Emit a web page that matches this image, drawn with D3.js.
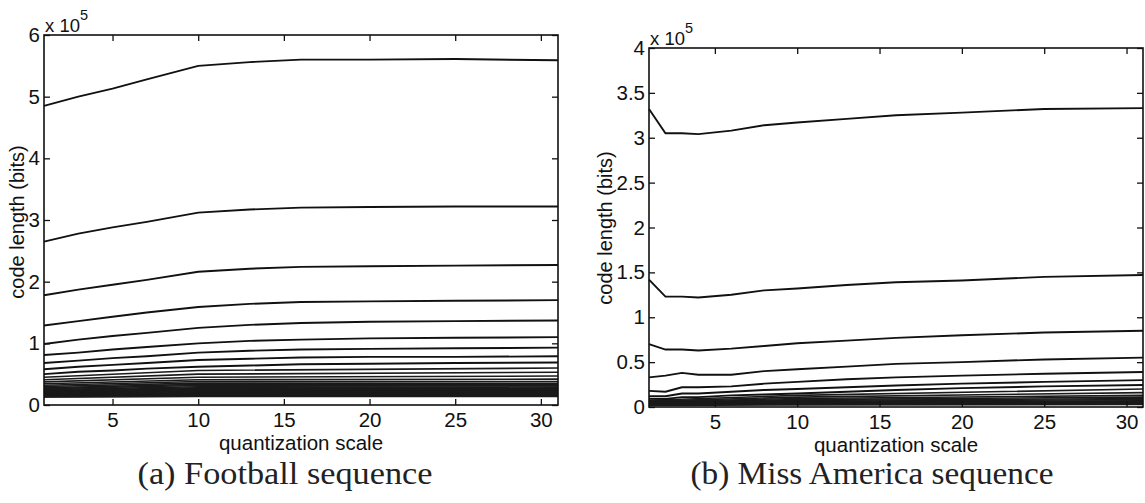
<!DOCTYPE html>
<html>
<head>
<meta charset="utf-8">
<script src="https://cdn.jsdelivr.net/npm/d3@7"></script>
<style>
  body { margin: 0; background: #fff; }
  svg { display: block; }
</style>
</head>
<body>
<div id="viz"></div>
<script>
// ---- data (code length in units of 1e5 bits) ----
// (a) Football sequence: upper curves read at these quantization scales
const footballQ = [1, 3, 5, 7, 10, 13, 16, 20, 25, 31];
const footballTop = [
  [4.85, 5.00, 5.13, 5.28, 5.50, 5.56, 5.60, 5.60, 5.61, 5.59],
  [2.65, 2.78, 2.88, 2.97, 3.12, 3.17, 3.20, 3.21, 3.22, 3.22],
  [1.78, 1.87, 1.95, 2.03, 2.16, 2.21, 2.24, 2.25, 2.26, 2.27],
  [1.29, 1.36, 1.43, 1.50, 1.59, 1.64, 1.67, 1.68, 1.69, 1.70],
  [0.99, 1.06, 1.12, 1.17, 1.25, 1.30, 1.33, 1.35, 1.36, 1.37],
  [0.81, 0.85, 0.90, 0.94, 1.00, 1.04, 1.06, 1.08, 1.09, 1.10],
  [0.68, 0.72, 0.76, 0.79, 0.85, 0.88, 0.90, 0.91, 0.92, 0.93],
  [0.58, 0.62, 0.65, 0.68, 0.73, 0.75, 0.77, 0.78, 0.78, 0.79],
  [0.50, 0.54, 0.56, 0.59, 0.62, 0.64, 0.66, 0.67, 0.68, 0.69]
];
// the dense lower band, read at q = 1, 10, 31
const footballLowQ = [1, 10, 31];
const footballLowStart = [0.45, 0.41, 0.375, 0.345, 0.32, 0.30, 0.28, 0.265, 0.25, 0.235, 0.225, 0.215, 0.205, 0.195, 0.185, 0.178, 0.171, 0.165, 0.159, 0.153, 0.148, 0.143, 0.138, 0.134, 0.13];
const footballLowMid   = [0.56, 0.50, 0.45, 0.41, 0.38, 0.355, 0.335, 0.315, 0.295, 0.28, 0.265, 0.25, 0.238, 0.226, 0.215, 0.205, 0.196, 0.187, 0.179, 0.171, 0.164, 0.157, 0.150, 0.144, 0.138];
const footballLowEnd   = [0.60, 0.53, 0.47, 0.42, 0.38, 0.35, 0.33, 0.31, 0.29, 0.275, 0.262, 0.25, 0.238, 0.227, 0.217, 0.207, 0.198, 0.19, 0.182, 0.174, 0.166, 0.158, 0.151, 0.144, 0.138];
const footballYTicks = [0, 1, 2, 3, 4, 5, 6];

// (b) Miss America sequence
const missQ = [1, 2, 3, 4, 6, 8, 10, 13, 16, 20, 25, 31];
const missTop = [
  [3.32, 3.05, 3.05, 3.04, 3.08, 3.14, 3.17, 3.21, 3.25, 3.28, 3.32, 3.33],
  [1.42, 1.23, 1.23, 1.22, 1.25, 1.30, 1.32, 1.36, 1.39, 1.41, 1.45, 1.47],
  [0.70, 0.64, 0.64, 0.63, 0.65, 0.68, 0.71, 0.74, 0.77, 0.80, 0.83, 0.85],
  [0.33, 0.35, 0.38, 0.36, 0.36, 0.40, 0.42, 0.45, 0.48, 0.50, 0.53, 0.55],
  [0.18, 0.17, 0.22, 0.22, 0.23, 0.26, 0.28, 0.31, 0.33, 0.35, 0.37, 0.39],
  [0.12, 0.12, 0.15, 0.15, 0.17, 0.19, 0.20, 0.22, 0.24, 0.26, 0.28, 0.30],
  [0.09, 0.09, 0.11, 0.11, 0.13, 0.14, 0.15, 0.17, 0.19, 0.21, 0.23, 0.245]
];
const missLowQ = [1, 10, 31];
const missLowStart = [0.075, 0.065, 0.058, 0.052, 0.047, 0.042, 0.038, 0.034, 0.030, 0.026, 0.022, 0.018];
const missLowMid   = [0.13, 0.11, 0.095, 0.082, 0.072, 0.063, 0.055, 0.048, 0.042, 0.036, 0.030, 0.024];
const missLowEnd   = [0.20, 0.16, 0.13, 0.11, 0.095, 0.082, 0.07, 0.06, 0.052, 0.044, 0.036, 0.028];
const missYTicks = [0, 0.5, 1, 1.5, 2, 2.5, 3, 3.5, 4];

const xTicks = [5, 10, 15, 20, 25, 30];

const sans = "'Liberation Sans', Arial, Helvetica, sans-serif";

const svg = d3.select("#viz")
  .append("svg")
  .attr("width", 1145)
  .attr("height", 503);

function buildLow(q, s, m, e) {
  return s.map((v, i) => [v, m[i], e[i]].map((y, j) => ({q: q[j], v: y})));
}

function drawPanel(p) {
  const x = d3.scaleLinear().domain([1, 31]).range([p.left, p.right]);
  const y = d3.scaleLinear().domain([0, p.yMax]).range([p.bottom, p.top]);
  const g = svg.append("g");

  const line = d3.line().x(d => x(d.q)).y(d => y(d.v));

  // dense lower band first
  g.append("g").selectAll("path")
    .data(p.low)
    .enter().append("path")
      .attr("d", line)
      .attr("fill", "none")
      .attr("stroke", "#1a1a1a")
      .attr("stroke-width", 1.6);

  g.append("g").selectAll("path")
    .data(p.curves.map(row => row.map((v, i) => ({q: p.q[i], v: v}))))
    .enter().append("path")
      .attr("d", line)
      .attr("fill", "none")
      .attr("stroke", "#111")
      .attr("stroke-width", 1.9);

  // box axes, ticks pointing inward on all four sides
  const tk = 6;
  const axes = g.append("g");
  axes.append("g").attr("transform", `translate(0,${p.bottom})`)
    .call(d3.axisBottom(x).tickValues(xTicks).tickSize(-tk).tickPadding(7).tickSizeOuter(0));
  axes.append("g").attr("transform", `translate(0,${p.top})`)
    .call(d3.axisTop(x).tickValues(xTicks).tickSize(-tk).tickFormat("").tickSizeOuter(0));
  axes.append("g").attr("transform", `translate(${p.left},0)`)
    .call(d3.axisLeft(y).tickValues(p.yTicks).tickSize(-tk).tickPadding(4).tickFormat(d3.format("~g")).tickSizeOuter(0));
  axes.append("g").attr("transform", `translate(${p.right},0)`)
    .call(d3.axisRight(y).tickValues(p.yTicks).tickSize(-tk).tickFormat("").tickSizeOuter(0));

  axes.selectAll(".domain").remove();
  axes.selectAll("g").attr("font-size", 20.5).attr("font-family", sans);
  axes.selectAll(".tick line").attr("stroke", "#111").attr("stroke-width", 1.3);
  axes.selectAll(".tick text").attr("fill", "#111");

  g.append("rect")
    .attr("x", p.left).attr("y", p.top)
    .attr("width", p.right - p.left).attr("height", p.bottom - p.top)
    .attr("fill", "none").attr("stroke", "#111").attr("stroke-width", 1.6);

  // x 10^5 multiplier
  const m = g.append("text")
    .attr("font-family", sans).attr("font-size", 18.5).attr("fill", "#111")
    .attr("x", p.left + 1).attr("y", p.top - 3);
  m.append("tspan").text("x 10");
  m.append("tspan").attr("dy", -12).attr("font-size", 14.5).text("5");

  g.append("text")
    .attr("font-family", sans).attr("font-size", 20.5).attr("fill", "#111")
    .attr("text-anchor", "middle")
    .attr("x", (p.left + p.right) / 2).attr("y", p.bottom + 45)
    .text("quantization scale");

  g.append("text")
    .attr("font-family", sans).attr("font-size", 20).attr("fill", "#111")
    .attr("text-anchor", "middle")
    .attr("transform", `translate(${p.ylabX},${p.ylabY}) rotate(-90)`)
    .text("code length (bits)");

  g.append("text")
    .attr("font-family", "'Liberation Serif', 'Times New Roman', serif")
    .attr("font-size", 31).attr("fill", "#222")
    .attr("text-anchor", "middle")
    .attr("x", p.capX).attr("y", 484)
    .attr("textLength", p.capW).attr("lengthAdjust", "spacingAndGlyphs")
    .text(p.caption);
}

drawPanel({
  left: 44, right: 558, top: 35, bottom: 405, yMax: 6,
  q: footballQ, curves: footballTop,
  low: buildLow(footballLowQ, footballLowStart, footballLowMid, footballLowEnd),
  yTicks: footballYTicks, ylabX: 24, ylabY: 222,
  caption: "(a) Football sequence", capX: 285, capW: 295
});

drawPanel({
  left: 649, right: 1143, top: 48, bottom: 407, yMax: 4,
  q: missQ, curves: missTop,
  low: buildLow(missLowQ, missLowStart, missLowMid, missLowEnd),
  yTicks: missYTicks, ylabX: 612, ylabY: 228,
  caption: "(b) Miss America sequence", capX: 872, capW: 363
});
</script>
</body>
</html>
